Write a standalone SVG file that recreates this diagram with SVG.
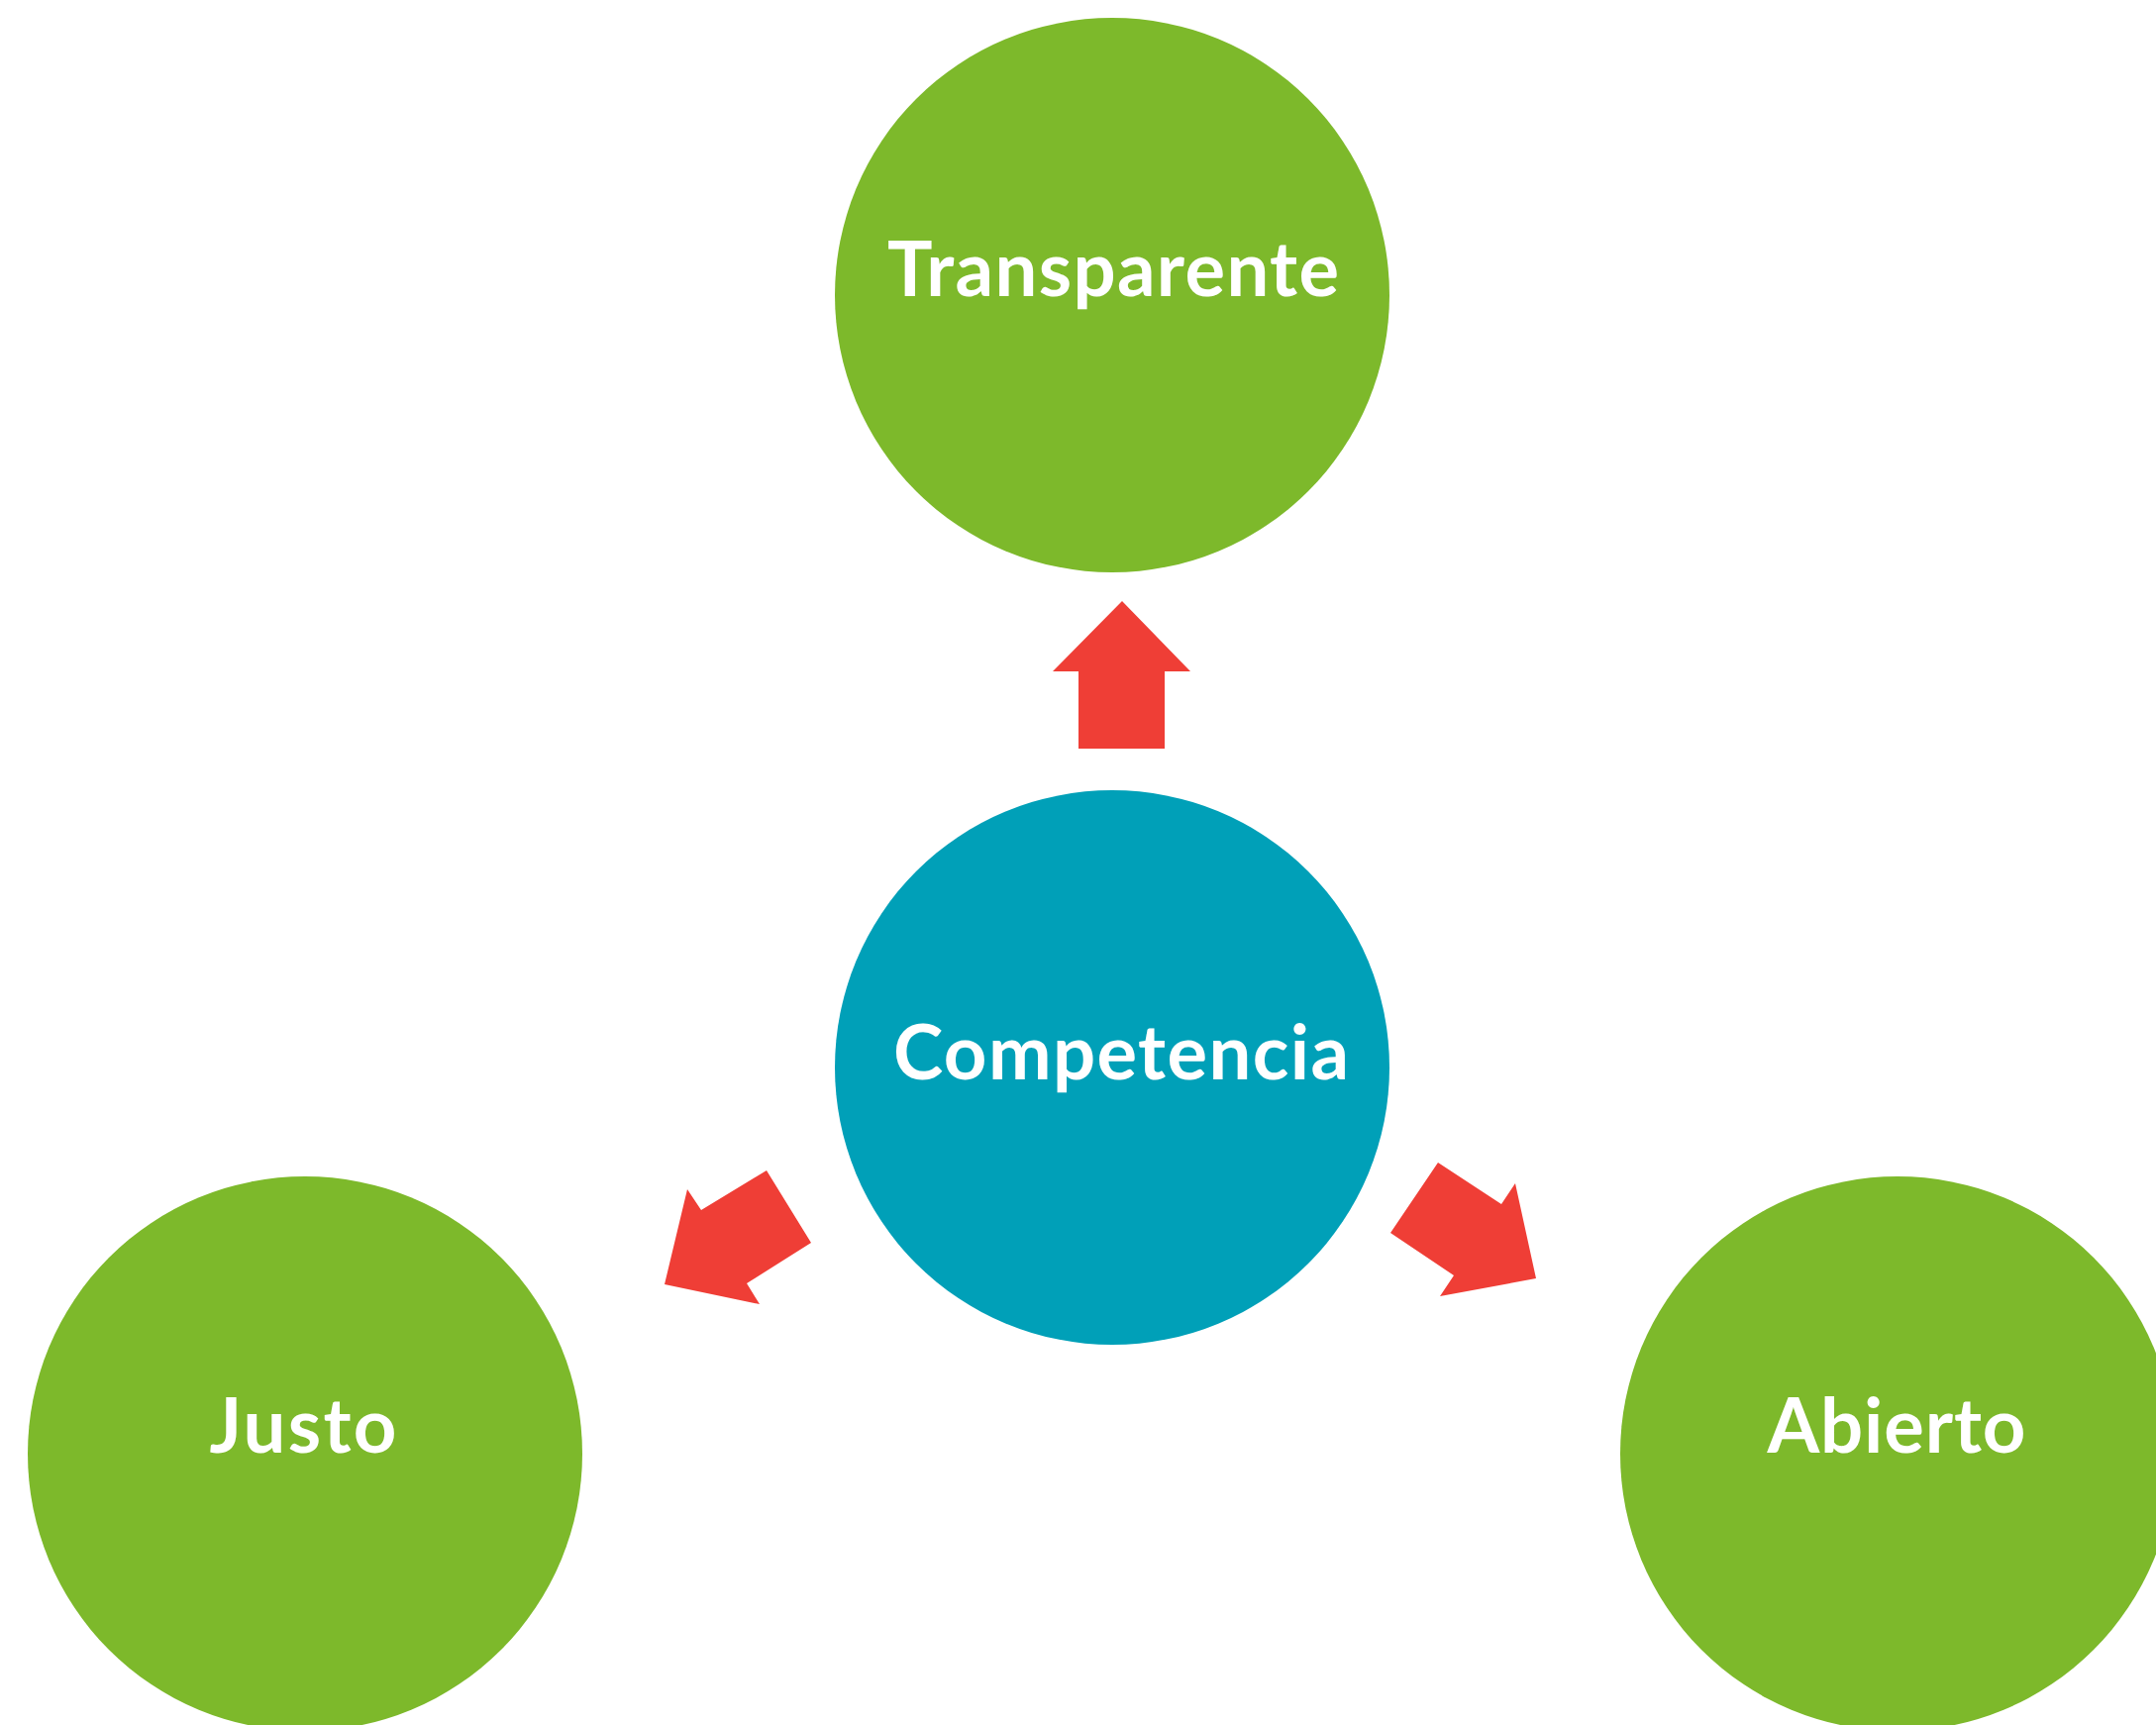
<svg xmlns="http://www.w3.org/2000/svg" width="2177" height="1742" viewBox="0 0 2177 1742">
  <style>
    .green { fill: #7DB92B; }
    .teal { fill: #00A0B8; }
    .arrow { fill: #EF3E36; }
    .label { fill: #FFFFFF; font-family: Lato, "Liberation Sans", sans-serif; font-weight: 700; font-size: 76px; text-anchor: middle; }
  </style>
  <rect width="2177" height="1742" fill="#FFFFFF"/>
  <g id="connectors">
    <polygon class="arrow" points="1133,607 1202,678 1176,678 1176,756 1089,756 1089,678 1063,678"/>
    <polygon class="arrow" points="774,1182 819,1255 754,1296 767,1317 671,1297 694,1201 708,1222"/>
    <polygon class="arrow" points="1452,1174 1516,1216 1530,1195 1551,1291 1454,1309 1468,1288 1404,1245"/>
  </g>
  <g id="node-transparente">
    <circle class="green" cx="1123" cy="298" r="280"/>
    <text class="label" x="1124" y="299" textLength="456" lengthAdjust="spacing">Transparente</text>
  </g>
  <g id="node-competencia">
    <circle class="teal" cx="1123" cy="1078" r="280"/>
    <text class="label" x="1132" y="1090" textLength="460" lengthAdjust="spacing">Competencia</text>
  </g>
  <g id="node-justo">
    <circle class="green" cx="308" cy="1468" r="280"/>
    <text class="label" x="306" y="1467" textLength="189" lengthAdjust="spacing">Justo</text>
  </g>
  <g id="node-abierto">
    <circle class="green" cx="1916" cy="1468" r="280"/>
    <text class="label" x="1915" y="1467" textLength="261" lengthAdjust="spacing">Abierto</text>
  </g>
</svg>
